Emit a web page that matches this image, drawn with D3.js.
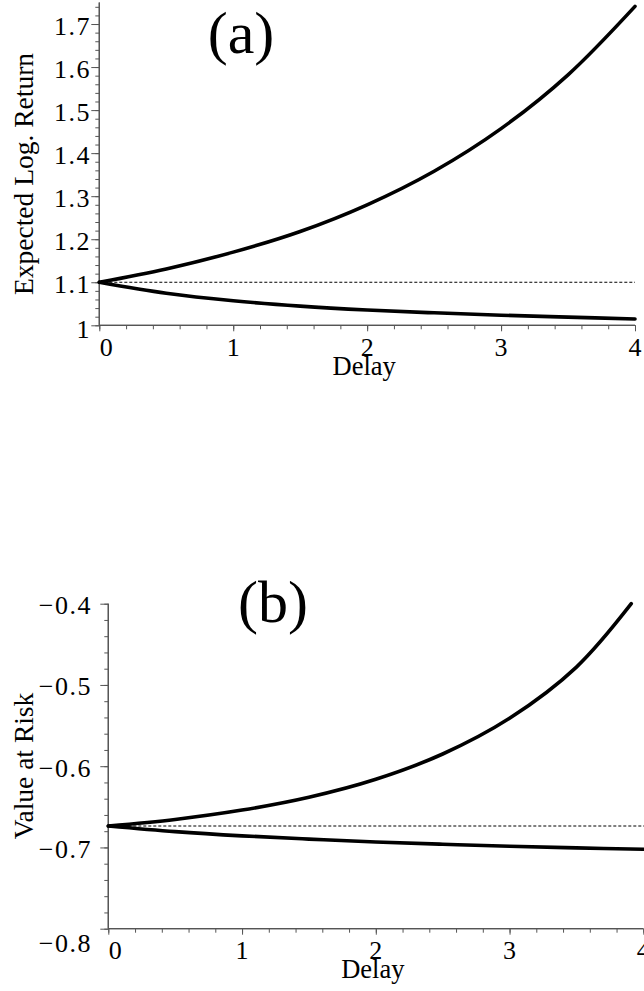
<!DOCTYPE html>
<html>
<head>
<meta charset="utf-8">
<script src="https://cdn.jsdelivr.net/npm/d3@7"></script>
<style>
  html, body { margin: 0; padding: 0; background: #fff; }
  svg { display: block; }
  text { font-family: "Liberation Serif", "DejaVu Serif", serif; fill: #000; }
</style>
</head>
<body>
<svg id="chart" width="644" height="991"></svg>
<script>
// ---- data ----
const delayA      = [0, 0.5, 1, 1.5, 2, 2.5, 3, 3.5, 4];
const upperA      = [1.1, 1.131, 1.170, 1.218, 1.280, 1.358, 1.457, 1.582, 1.741];
const lowerA      = [1.1, 1.0745, 1.057, 1.0445, 1.0355, 1.029, 1.0235, 1.019, 1.0146];
const baselineA   = 1.1;

const delayB      = [0, 0.5, 1, 1.5, 2, 2.5, 3, 3.5, 3.91];
const upperB      = [-0.6736, -0.6655, -0.6540, -0.6382, -0.6161, -0.5850, -0.5410, -0.4780, -0.4];
const delayBLow   = [0, 0.5, 1, 1.5, 2, 2.5, 3, 3.5, 4];
const lowerB      = [-0.6736, -0.6805, -0.6857, -0.6897, -0.6933, -0.696, -0.6985, -0.7005, -0.7023];
const baselineB   = -0.6736;

const xTicks      = [0, 1, 2, 3, 4];
const yTicksA     = [1, 1.1, 1.2, 1.3, 1.4, 1.5, 1.6, 1.7];
const yTicksB     = [-0.8, -0.7, -0.6, -0.5, -0.4];
const panelLabels = ["(a)", "(b)"];
const yTitles     = ["Expected Log. Return", "Value at Risk"];
const xTitle      = "Delay";

const svg = d3.select("#chart");
const AXIS = "#555";

function fmt(v) {
  const s = d3.format(".1f")(Math.abs(v));
  const t = (Math.abs(v - Math.round(v)) < 1e-9) ? String(Math.round(Math.abs(v))) : s;
  return (v < 0 ? "\u2212" : "") + t;
}

function panel(cfg) {
  const g = svg.append("g");
  const x = d3.scaleLinear().domain([0, 4]).range([cfg.x0, cfg.x1]);
  const y = d3.scaleLinear().domain(cfg.yDomain).range([cfg.yBottom, cfg.yTop]);

  const xMinor = d3.range(0, 4.0001, 0.2);
  const yMinor = d3.range(cfg.yDomain[0], cfg.yDomain[1] + 1e-6, 0.02);

  const xAxisMinor = d3.axisBottom(x).tickValues(xMinor).tickSize(4).tickFormat("");
  const xAxisMajor = d3.axisBottom(x).tickValues(xTicks).tickSize(6).tickFormat("");
  const yAxisMinor = d3.axisLeft(y).tickValues(yMinor).tickSize(4).tickFormat("");
  const yAxisMajor = d3.axisLeft(y).tickValues(cfg.yTicks).tickSize(8).tickFormat("");

  [xAxisMinor, xAxisMajor].forEach(ax => {
    const a = g.append("g").attr("transform", `translate(0,${cfg.yBottom})`).call(ax);
    a.select(".domain").attr("stroke", AXIS).attr("stroke-width", 1.2).attr("d", `M${cfg.x0},0H${cfg.x1}`);
    a.selectAll(".tick line").attr("stroke", AXIS).attr("stroke-width", 1);
  });
  [yAxisMinor, yAxisMajor].forEach(ax => {
    const a = g.append("g").attr("transform", `translate(${cfg.x0},0)`).call(ax);
    a.select(".domain").attr("stroke", AXIS).attr("stroke-width", 1.2).attr("d", `M0,${cfg.yBottom}V${cfg.yTop}`);
    a.selectAll(".tick line").attr("stroke", AXIS).attr("stroke-width", 1);
  });

  // tick labels
  g.selectAll(".xl").data(xTicks).join("text")
    .attr("x", d => x(d) + (d === 0 ? 7 : 0))
    .attr("y", cfg.yBottom + 30.5)
    .attr("text-anchor", "middle")
    .attr("font-size", 26)
    .text(d => fmt(d));

  g.selectAll(".yl").data(cfg.yTicks).join("text")
    .attr("x", cfg.labelRight)
    .attr("y", (d, i) => y(d) + 9 + (i === 0 ? cfg.bottomShift : 1.5))
    .attr("text-anchor", "end")
    .attr("font-size", 26)
    .attr("letter-spacing", 1.5)
    .text(d => fmt(d));

  // axis titles
  g.append("text")
    .attr("x", (cfg.x0 + cfg.x1) / 2 - 3)
    .attr("y", cfg.yBottom + 49.5)
    .attr("text-anchor", "middle")
    .attr("font-size", 26.5)
    .text(xTitle);

  g.append("text")
    .attr("transform", `translate(33,${cfg.titleY}) rotate(-90)`)
    .attr("text-anchor", "middle")
    .attr("font-size", 27.5)
    .text(cfg.yTitle);

  // panel label
  g.append("text")
    .attr("x", cfg.labX).attr("y", cfg.labY)
    .attr("text-anchor", "middle")
    .attr("font-size", 60)
    .text(cfg.label);

  // dashed reference line
  g.append("line")
    .attr("x1", x(0)).attr("x2", cfg.dashEnd)
    .attr("y1", y(cfg.base)).attr("y2", y(cfg.base))
    .attr("stroke", "#000").attr("stroke-width", 1)
    .attr("stroke-dasharray", "3,2");

  const line = d3.line().x(d => x(d[0])).y(d => y(d[1])).curve(d3.curveCatmullRom.alpha(0.5));
  g.append("path").datum(d3.zip(cfg.xu, cfg.up)).attr("d", line)
    .attr("fill", "none").attr("stroke", "#000").attr("stroke-width", 3.6).attr("stroke-linecap", "round");
  g.append("path").datum(d3.zip(cfg.xl, cfg.low)).attr("d", line)
    .attr("fill", "none").attr("stroke", "#000").attr("stroke-width", 3.6).attr("stroke-linecap", "round");
}

panel({
  x0: 99.3, x1: 635, yBottom: 325.3, yTop: 2.5, yDomain: [1, 1.75],
  yTicks: yTicksA, labelRight: 91, bottomShift: 4,
  yTitle: yTitles[0], titleY: 174,
  label: panelLabels[0], labX: 241, labY: 53,
  base: baselineA, dashEnd: 635,
  xu: delayA, up: upperA, xl: delayA, low: lowerA
});

panel({
  x0: 108.3, x1: 643.3, yBottom: 928.7, yTop: 603.7, yDomain: [-0.8, -0.4],
  yTicks: yTicksB, labelRight: 92, bottomShift: 14,
  yTitle: yTitles[1], titleY: 766,
  label: panelLabels[1], labX: 273, labY: 622,
  base: baselineB, dashEnd: 644,
  xu: delayB, up: upperB, xl: delayBLow, low: lowerB
});
</script>
</body>
</html>
